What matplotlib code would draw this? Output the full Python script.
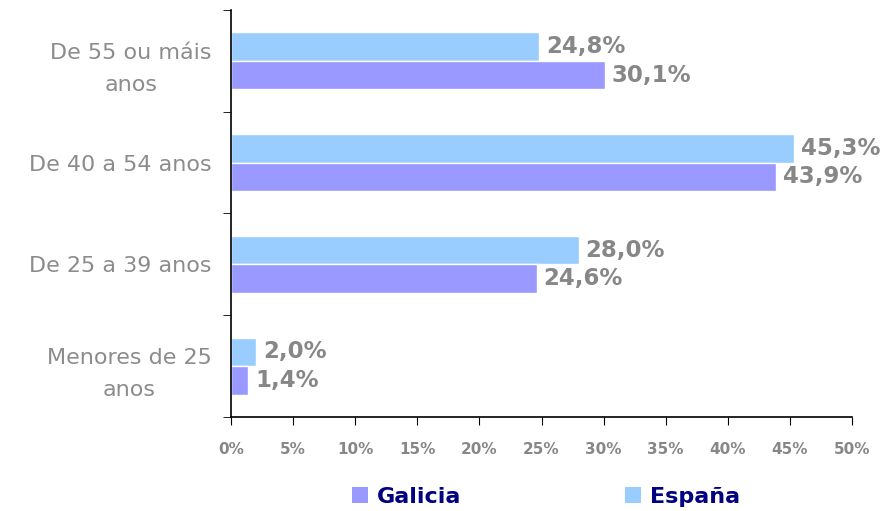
import matplotlib
matplotlib.use("Agg")
import matplotlib.pyplot as plt
import numpy as np
from matplotlib.patches import Patch

categories = ["Menores de 25\nanos", "De 25 a 39 anos", "De 40 a 54 anos", "De 55 ou máis\nanos"]
galicia = [1.4, 24.6, 43.9, 30.1]
espana = [2.0, 28.0, 45.3, 24.8]
series_names = ["Galicia", "España"]
xticks = [0, 5, 10, 15, 20, 25, 30, 35, 40, 45, 50]

plt.rcParams['font.family'] = ['DejaVu Sans']
fig = plt.figure(figsize=(8.88, 5.11), dpi=100)
ax = fig.add_axes([231/888, 1-417/511, (852-231)/888, (417-10)/511])

y = np.arange(len(categories))
h = 0.28
c_gal = "#9999FF"
c_esp = "#99CCFF"
ax.barh(y + h/2, espana, height=h, color=c_esp, edgecolor="white", linewidth=1)
ax.barh(y - h/2, galicia, height=h, color=c_gal, edgecolor="white", linewidth=1)

lab_col = "#878787"
for i in range(len(categories)):
    ax.annotate(f"{espana[i]:.1f}%".replace(".", ","), (espana[i], y[i] + h/2),
                xytext=(5, 0), textcoords="offset points", va="center", ha="left",
                fontsize=16.5, fontweight="bold", color=lab_col)
    ax.annotate(f"{galicia[i]:.1f}%".replace(".", ","), (galicia[i], y[i] - h/2),
                xytext=(5, 0), textcoords="offset points", va="center", ha="left",
                fontsize=16.5, fontweight="bold", color=lab_col)

ax.set_xlim(0, 50)
ax.set_ylim(-0.5, len(categories) - 0.5)
ax.set_xticks(xticks)
ax.set_xticklabels([f"{t}%" for t in xticks], fontsize=11, fontweight="bold", color=lab_col)
ax.set_yticks(y)
ax.set_yticklabels(categories, fontsize=16, color="#8c8c8c", ha="right",
                   multialignment="center", linespacing=1.75)
ax.tick_params(axis="y", length=0, pad=14)
ax.set_yticks(np.arange(-0.5, len(categories)), minor=True)
ax.tick_params(axis="y", which="minor", length=6, direction="out")
ax.tick_params(axis="x", length=6, direction="out", pad=12)
for s in ["top", "right"]:
    ax.spines[s].set_visible(False)
ax.spines["left"].set_linewidth(1.2)
ax.spines["bottom"].set_linewidth(1.2)

handles = [Patch(facecolor=c_gal, edgecolor="none"), Patch(facecolor=c_esp, edgecolor="none")]
leg = fig.legend(handles, series_names, loc="center", bbox_to_anchor=(546/888, 1-497/511),
                 ncol=2, frameon=False, columnspacing=7.4, handlelength=0.7, handleheight=0.7,
                 handletextpad=0.4, prop={"size": 16, "weight": "bold"})
for t in leg.get_texts():
    t.set_color("#000080")

fig.savefig("out.png", dpi=100)
